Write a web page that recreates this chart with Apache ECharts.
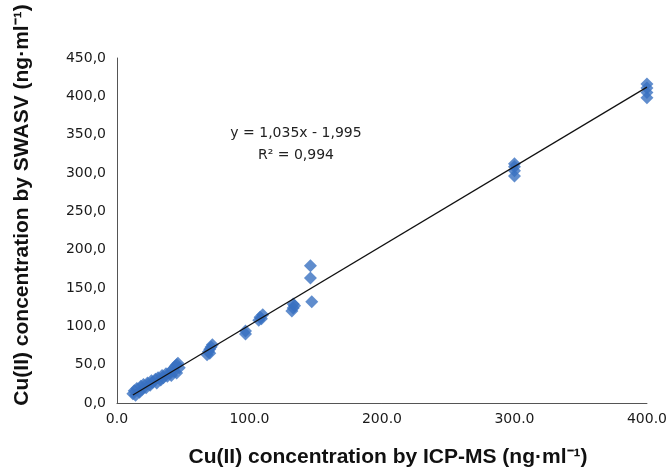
<!DOCTYPE html>
<html>
<head>
<meta charset="utf-8">
<script src="https://cdn.jsdelivr.net/npm/echarts@6/dist/echarts.min.js"></script>
<style>
  html, body { margin: 0; padding: 0; background: #fff; }
  #chart { width: 670px; height: 471px; }
</style>
</head>
<body>
<div id="chart"></div>
<script>
// Cu(II) by ICP-MS (x) vs by SWASV (y)
var icpValues = [12, 13, 14, 15, 17, 18, 19, 20, 22, 23, 25, 26, 27, 29, 30, 31, 33, 34, 35, 37, 38, 40, 41, 42, 43, 44, 45, 46, 47, 45,
  68, 69, 70, 71, 72, 70,
  97, 97,
  107, 108, 109, 110,
  132, 133, 134, 133,
  146, 146, 147,
  300, 300, 300, 300,
  400, 400, 400, 400];
var swasvValues = [12, 16, 10, 19, 14, 22, 18, 24, 20, 26, 23, 29, 27, 31, 26, 33, 30, 36, 33, 38, 35, 40, 36, 44, 41, 48, 39, 52, 46, 50,
  63, 67, 70, 73, 76, 65,
  90, 94,
  108, 112, 110, 115,
  120, 124, 127, 129,
  179, 163, 132,
  312, 308, 303, 296,
  416, 411, 405, 398];

// linear fit shown on the chart
var slope = 1.035;
var intercept = -1.995;
var fitLabel = 'y = 1,035x - 1,995';
var r2Label = 'R² = 0,994';

var xTicks = [0, 100, 200, 300, 400];
var yTicks = [0, 50, 100, 150, 200, 250, 300, 350, 400, 450];

var points = [];
for (var i = 0; i < icpValues.length; i++) {
  points.push([icpValues[i], swasvValues[i]]);
}
var xMin = Math.min.apply(null, icpValues);
var xMax = Math.max.apply(null, icpValues);
var fitLine = [[xMin, slope * xMin + intercept], [xMax, slope * xMax + intercept]];

var chart = echarts.init(document.getElementById('chart'));

var tickFont = '"DejaVu Sans", Verdana, sans-serif';
var titleFont = '"Liberation Sans", Arial, sans-serif';

var option = {
  animation: false,
  backgroundColor: '#ffffff',
  grid: { left: 117, right: 18, top: 58, bottom: 68 },
  xAxis: {
    type: 'value',
    min: xTicks[0],
    max: xTicks[xTicks.length - 1],
    interval: 100,
    axisLine: { show: true, onZero: false, lineStyle: { color: '#555', width: 1 } },
    axisTick: { show: false },
    splitLine: { show: false },
    axisLabel: {
      margin: 9,
      color: '#1a1a1a',
      fontSize: 14,
      fontFamily: tickFont,
      formatter: function (v) { return v.toFixed(1); }
    }
  },
  yAxis: {
    type: 'value',
    min: yTicks[0],
    max: yTicks[yTicks.length - 1],
    interval: 50,
    axisLine: { show: true, onZero: false, lineStyle: { color: '#555', width: 1 } },
    axisTick: { show: false },
    splitLine: { show: false },
    axisLabel: {
      margin: 11,
      color: '#1a1a1a',
      fontSize: 14,
      fontFamily: tickFont,
      formatter: function (v) { return v.toFixed(1).replace('.', ','); }
    }
  },
  series: [
    {
      name: 'fit',
      type: 'line',
      data: fitLine,
      symbol: 'none',
      lineStyle: { color: '#111', width: 1.2 },
      z: 3
    },
    {
      name: 'samples',
      type: 'scatter',
      data: points,
      symbol: 'diamond',
      symbolSize: 13,
      clip: false,
      itemStyle: { color: '#3870c0' },
      z: 2
    }
  ],
  graphic: [
    {
      type: 'text',
      x: 388,
      y: 457,
      style: {
        text: 'Cu(II) concentration by ICP-MS (ng·ml⁻¹)',
        fill: '#111',
        font: 'bold 21px ' + titleFont,
        align: 'center',
        verticalAlign: 'middle'
      }
    },
    {
      type: 'text',
      x: 22,
      y: 205,
      rotation: Math.PI / 2,
      style: {
        text: 'Cu(II) concentration by SWASV (ng·ml⁻¹)',
        fill: '#111',
        font: 'bold 21px ' + titleFont,
        align: 'center',
        verticalAlign: 'middle'
      }
    },
    {
      type: 'text',
      x: 296,
      y: 133,
      style: {
        text: fitLabel,
        fill: '#222',
        font: '14px ' + tickFont,
        align: 'center',
        verticalAlign: 'middle'
      }
    },
    {
      type: 'text',
      x: 296,
      y: 155,
      style: {
        text: r2Label,
        fill: '#222',
        font: '14px ' + tickFont,
        align: 'center',
        verticalAlign: 'middle'
      }
    }
  ]
};

chart.setOption(option);
</script>
</body>
</html>
